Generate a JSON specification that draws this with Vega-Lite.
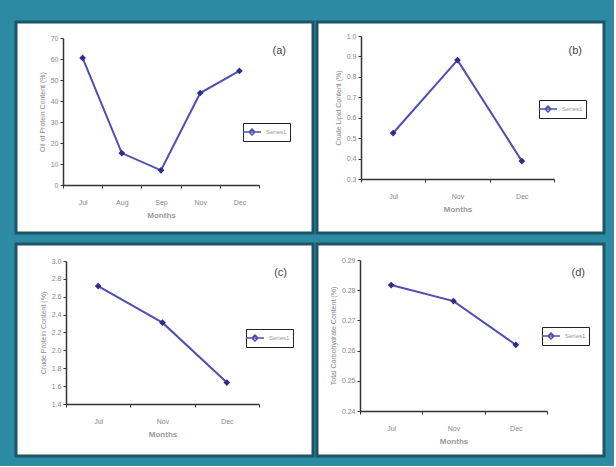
{
  "$schema": "https://vega.github.io/schema/vega-lite/v6.json",
  "background": "#2c8aa3",
  "padding": {"left": 14, "top": 20, "right": 8, "bottom": 8},
  "config": {
    "font": "Liberation Sans",
    "view": {"fill": "white", "stroke": "#1e5566", "strokeWidth": 3},
    "axis": {"grid": false, "domainColor": "#333", "domainWidth": 1.5, "tickColor": "#333", "tickSize": 3, "labelFontSize": 7, "labelColor": "#888", "titleFontSize": 7, "titleColor": "#888", "titleFontWeight": "normal"},
    "axisX": {"labelAngle": 0, "tickBand": "extent", "labelPadding": 10, "titlePadding": 6, "titleFontSize": 8, "titleFontWeight": "bold", "titleColor": "#999"},
    "axisY": {"labelPadding": 2, "titlePadding": 5},
    "legend": {"orient": "none", "title": null, "strokeColor": "#222", "fillColor": "white", "padding": 3, "symbolType": "M-1.8,0L1.8,0M0,-0.6L0.6,0L0,0.6L-0.6,0Z", "symbolSize": 100, "symbolStrokeWidth": 1.5, "labelFontSize": 6, "labelColor": "#999", "labelOffset": 8},
    "title": {"anchor": "end", "offset": 0, "fontSize": 11, "fontWeight": "normal", "color": "#444", "baseline": "middle"}
  },
  "resolve": {"scale": {"color": "independent"}, "legend": {"color": "independent"}},
  "spacing": 7,
  "vconcat": [
    {
      "spacing": 0,
      "resolve": {"scale": {"color": "independent"}, "legend": {"color": "independent"}},
      "hconcat": [
        {
          "width": 297, "height": 211,
          "title": {"text": "(a)", "dx": -27, "dy": 38},
          "data": {"values": [
            {"month": "Jul", "value": 60.5, "series": "Series1"},
            {"month": "Aug", "value": 15.2, "series": "Series1"},
            {"month": "Sep", "value": 7.0, "series": "Series1"},
            {"month": "Nov", "value": 43.8, "series": "Series1"},
            {"month": "Dec", "value": 54.3, "series": "Series1"}
          ]},
          "encoding": {
            "x": {"field": "month", "type": "nominal", "sort": null, "scale": {"type": "band", "range": [47, 243], "paddingInner": 0, "paddingOuter": 0}, "axis": {"title": "Months", "offset": -48}},
            "y": {"field": "value", "type": "quantitative", "scale": {"domain": [0, 70], "range": [163, 16], "nice": false, "zero": false}, "axis": {"title": "Oil of Protein Content (%)", "offset": -47, "values": [0, 10, 20, 30, 40, 50, 60, 70], "format": "d"}}
          },
          "layer": [
            {"mark": {"type": "line", "strokeWidth": 2}, "encoding": {"color": {"field": "series", "type": "nominal", "scale": {"range": ["#4f4fb0"]}, "legend": {"legendX": 227, "legendY": 101}}}},
            {"mark": {"type": "point", "shape": "diamond", "filled": true, "size": 45, "opacity": 1, "color": "#2e2e8a"}}
          ]
        },
        {
          "width": 287, "height": 211,
          "title": {"text": "(b)", "dx": -22, "dy": 38},
          "data": {"values": [
            {"month": "Jul", "value": 0.525, "series": "Series1"},
            {"month": "Nov", "value": 0.882, "series": "Series1"},
            {"month": "Dec", "value": 0.388, "series": "Series1"}
          ]},
          "encoding": {
            "x": {"field": "month", "type": "nominal", "sort": null, "scale": {"type": "band", "range": [44, 237], "paddingInner": 0, "paddingOuter": 0}, "axis": {"title": "Months", "offset": -54}},
            "y": {"field": "value", "type": "quantitative", "scale": {"domain": [0.3, 1.0], "range": [157, 14], "nice": false, "zero": false}, "axis": {"title": "Crude Lipid Content (%)", "offset": -44, "values": [0.3, 0.4, 0.5, 0.6, 0.7, 0.8, 0.9, 1.0], "format": ".1f"}}
          },
          "layer": [
            {"mark": {"type": "line", "strokeWidth": 2}, "encoding": {"color": {"field": "series", "type": "nominal", "scale": {"range": ["#4f4fb0"]}, "legend": {"legendX": 222, "legendY": 78}}}},
            {"mark": {"type": "point", "shape": "diamond", "filled": true, "size": 45, "opacity": 1, "color": "#2e2e8a"}}
          ]
        }
      ]
    },
    {
      "spacing": 0,
      "resolve": {"scale": {"color": "independent"}, "legend": {"color": "independent"}},
      "hconcat": [
        {
          "width": 297, "height": 212,
          "title": {"text": "(c)", "dx": -26, "dy": 38},
          "data": {"values": [
            {"month": "Jul", "value": 2.72, "series": "Series1"},
            {"month": "Nov", "value": 2.31, "series": "Series1"},
            {"month": "Dec", "value": 1.64, "series": "Series1"}
          ]},
          "encoding": {
            "x": {"field": "month", "type": "nominal", "sort": null, "scale": {"type": "band", "range": [50, 243], "paddingInner": 0, "paddingOuter": 0}, "axis": {"title": "Months", "offset": -52}},
            "y": {"field": "value", "type": "quantitative", "scale": {"domain": [1.4, 3.0], "range": [160, 17], "nice": false, "zero": false}, "axis": {"title": "Crude Protein Content (%)", "offset": -50, "values": [1.4, 1.6, 1.8, 2.0, 2.2, 2.4, 2.6, 2.8, 3.0], "format": ".1f"}}
          },
          "layer": [
            {"mark": {"type": "line", "strokeWidth": 2}, "encoding": {"color": {"field": "series", "type": "nominal", "scale": {"range": ["#4f4fb0"]}, "legend": {"legendX": 230, "legendY": 85}}}},
            {"mark": {"type": "point", "shape": "diamond", "filled": true, "size": 45, "opacity": 1, "color": "#2e2e8a"}}
          ]
        },
        {
          "width": 287, "height": 212,
          "title": {"text": "(d)", "dx": -19, "dy": 38},
          "data": {"values": [
            {"month": "Jul", "value": 0.2817, "series": "Series1"},
            {"month": "Nov", "value": 0.2764, "series": "Series1"},
            {"month": "Dec", "value": 0.2619, "series": "Series1"}
          ]},
          "encoding": {
            "x": {"field": "month", "type": "nominal", "sort": null, "scale": {"type": "band", "range": [43, 230], "paddingInner": 0, "paddingOuter": 0}, "axis": {"title": "Months", "offset": -45}},
            "y": {"field": "value", "type": "quantitative", "scale": {"domain": [0.24, 0.29], "range": [167, 16], "nice": false, "zero": false}, "axis": {"title": "Total Carbohydrate Content (%)", "offset": -43, "values": [0.24, 0.25, 0.26, 0.27, 0.28, 0.29], "format": ".2f"}}
          },
          "layer": [
            {"mark": {"type": "line", "strokeWidth": 2}, "encoding": {"color": {"field": "series", "type": "nominal", "scale": {"range": ["#4f4fb0"]}, "legend": {"legendX": 225, "legendY": 83}}}},
            {"mark": {"type": "point", "shape": "diamond", "filled": true, "size": 45, "opacity": 1, "color": "#2e2e8a"}}
          ]
        }
      ]
    }
  ]
}
